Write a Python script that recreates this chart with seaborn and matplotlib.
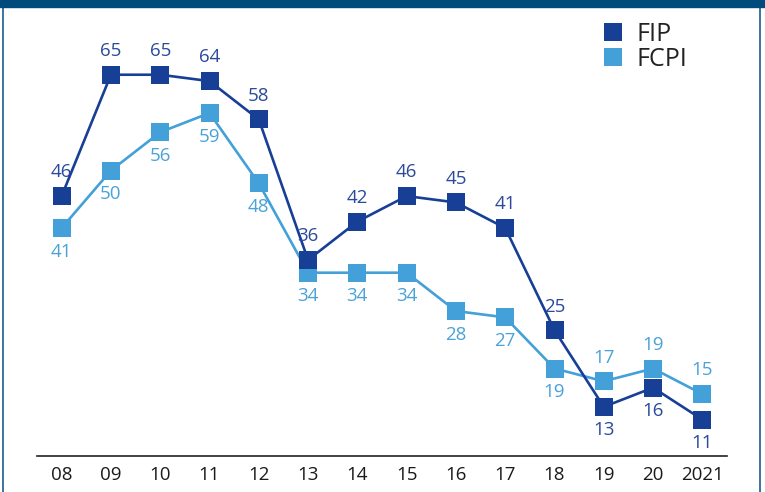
import matplotlib
matplotlib.use("Agg")
import matplotlib.pyplot as plt
import seaborn as sns
import pandas as pd
from matplotlib.patches import Rectangle
from matplotlib.lines import Line2D

years = ["08", "09", "10", "11", "12", "13", "14", "15", "16", "17", "18", "19", "20", "2021"]
fip = [46, 65, 65, 64, 58, 36, 42, 46, 45, 41, 25, 13, 16, 11]
fcpi = [41, 50, 56, 59, 48, 34, 34, 34, 28, 27, 19, 17, 19, 15]
# label placement: +1 above, -1 below
fip_pos = [1, 1, 1, 1, 1, 1, 1, 1, 1, 1, 1, -1, -1, -1]
fcpi_pos = [-1, -1, -1, -1, -1, -1, -1, -1, -1, -1, -1, 1, 1, 1]

c_fip = "#173f95"
c_fcpi = "#43a0d9"
c_fip_txt = "#2b4a9c"
c_fcpi_txt = "#4aa2d9"

sns.set_theme(style="white")
plt.rcParams["font.family"] = ["Open Sans", "DejaVu Sans"]

df = pd.DataFrame({
    "x": list(range(len(years))) * 2,
    "value": fip + fcpi,
    "series": ["FIP"] * len(years) + ["FCPI"] * len(years),
})

fig = plt.figure(figsize=(7.65, 4.92), dpi=100)
ax = fig.add_axes([37 / 765, 1 - 456 / 492, 690 / 765, 456 / 492])

sns.lineplot(data=df, x="x", y="value", hue="series", palette={"FIP": c_fip, "FCPI": c_fcpi},
             marker="s", markersize=13.5, markeredgewidth=0, linewidth=1.9, ax=ax, legend=False,
             hue_order=["FCPI", "FIP"])

for i, (v, p) in enumerate(zip(fip, fip_pos)):
    ax.annotate(str(v), (i, v), xytext=(0, 17 * p), textcoords="offset points",
                ha="center", va="center", fontsize=13.5, color=c_fip_txt)
for i, (v, p) in enumerate(zip(fcpi, fcpi_pos)):
    ax.annotate(str(v), (i, v), xytext=(0, 17 * p), textcoords="offset points",
                ha="center", va="center", fontsize=13.5, color=c_fcpi_txt)

ax.set_xlim(-0.5, len(years) - 0.5)
ax.set_ylim(5.3, 76.7)
ax.set_xticks(range(len(years)))
ax.set_xticklabels(years, fontsize=13.5, color="#1a1a1a")
ax.set_yticks([])
ax.set_xlabel("")
ax.set_ylabel("")
for s in ["top", "right", "left"]:
    ax.spines[s].set_visible(False)
ax.spines["bottom"].set_color("#222222")
ax.spines["bottom"].set_linewidth(1.2)
ax.tick_params(axis="x", length=0, pad=7)
ax.patch.set_alpha(0)

handles = [Line2D([], [], marker="s", linestyle="none", markersize=13, color=c_fip, markeredgewidth=0),
           Line2D([], [], marker="s", linestyle="none", markersize=13, color=c_fcpi, markeredgewidth=0)]
fig.legend(handles, ["FIP", "FCPI"], loc="upper left", bbox_to_anchor=(578 / 765, 1 + 1 / 492),
           frameon=False, handletextpad=0.45, labelspacing=0.0, handlelength=1.0,
           labelcolor="#222222", prop={"family": ["Open Sans"], "size": 18})

# frame and top band
fig.patches.append(Rectangle((0, 1 - 7 / 492), 1, 7 / 492, transform=fig.transFigure,
                             color="#004b7c", zorder=5))
fig.add_artist(Line2D([2.5 / 765, 2.5 / 765], [0, 1], transform=fig.transFigure, color="#1d5a8c", lw=1.2))
fig.add_artist(Line2D([760 / 765, 760 / 765], [0, 1], transform=fig.transFigure, color="#1d5a8c", lw=1.2))

fig.savefig("out.png", dpi=100)
